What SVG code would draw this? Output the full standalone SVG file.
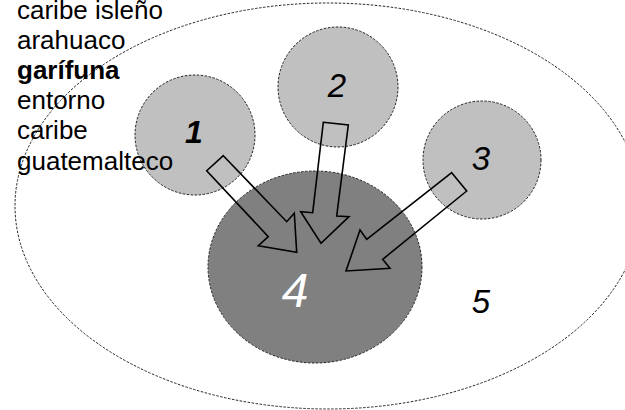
<svg xmlns="http://www.w3.org/2000/svg" width="625" height="410" viewBox="0 0 625 410">
<style>
.dash{stroke:#222;stroke-width:1;stroke-dasharray:2.5 1.5}
.arrow{fill:none;stroke:#000;stroke-width:1.6;stroke-linejoin:miter}
.num{font-family:"Liberation Sans",Arial,sans-serif;font-style:italic;text-anchor:middle}
.lbl{font-family:"Liberation Sans",Arial,sans-serif;font-size:26px;fill:#000}
</style>
<rect width="625" height="410" fill="#fff"/>
<g id="node5">
<ellipse cx="328" cy="206" rx="313" ry="203" fill="#fff" class="dash"/>
<text class="num" x="481" y="313" font-size="33">5</text>
</g>
<g id="node1">
<circle cx="195" cy="135" r="60" fill="#c0c0c0" class="dash"/>
<text class="num" x="194" y="143" font-size="32" font-weight="bold">1</text>
</g>
<g id="node2">
<circle cx="338" cy="87" r="60" fill="#c0c0c0" class="dash"/>
<text class="num" x="337" y="97" font-size="33">2</text>
</g>
<g id="node3">
<circle cx="482" cy="160" r="59" fill="#c0c0c0" class="dash"/>
<text class="num" x="481" y="170" font-size="33">3</text>
</g>
<g id="node4">
<ellipse cx="315" cy="267" rx="107" ry="96" fill="#808080" class="dash"/>
<text class="num" x="295" y="307" font-size="48" fill="#fff">4</text>
</g>
<g id="connectors">
<polygon class="arrow" points="223.3,155.7 286.7,221.7 294.3,213.3 296.7,252.3 258.3,245.7 268.3,236.7 206.7,170.7"/>
<polygon class="arrow" points="323.3,122.3 348.3,125 336.7,216 349,216.7 321,243.3 300.7,211.7 312.7,212.7"/>
<polygon class="arrow" points="451.7,172.7 466.7,191 382.7,259.3 390,268.3 346,271 360,230 366.7,239.3"/>
</g>
<g id="legend">
<text class="lbl" x="17" y="18.5">caribe isleño</text>
<text class="lbl" x="17" y="48.5">arahuaco</text>
<text class="lbl" x="17" y="78.5" font-weight="bold">garífuna</text>
<text class="lbl" x="17" y="108.7">entorno</text>
<text class="lbl" x="17" y="139.1">caribe</text>
<text class="lbl" x="17" y="169.5">guatemalteco</text>
</g>
</svg>
